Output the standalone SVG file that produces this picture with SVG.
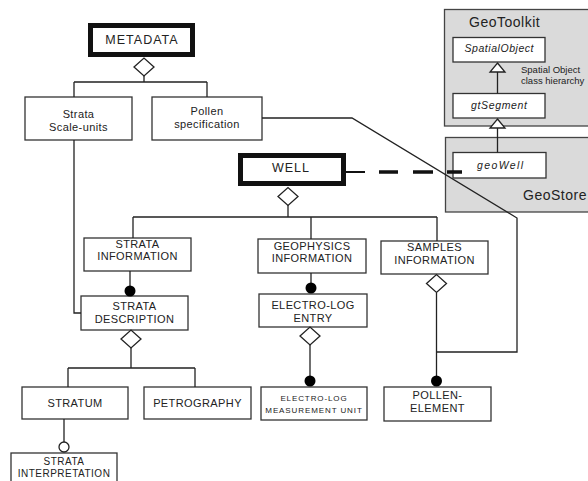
<svg xmlns="http://www.w3.org/2000/svg" xmlns:xlink="http://www.w3.org/1999/xlink" width="588" height="481" viewBox="0 0 588 481">
<style>
  text { font-family: "Liberation Sans", Arial, Helvetica, sans-serif; fill: #222; text-anchor: middle; }
  .box { fill: #fff; stroke: #333; stroke-width: 1.3; }
  .thick { fill: #fff; stroke: #111; stroke-width: 5; }
  .pkg { fill: #dadada; stroke: #444; stroke-width: 1.3; }
  .lbl { font-size: 11px; letter-spacing: 0.4px; }
  .big { font-size: 12.5px; letter-spacing: 1px; }
  .small { font-size: 8px; letter-spacing: 0.9px; }
  .mid { font-size: 10px; letter-spacing: 0.5px; }
  .it { font-size: 10.5px; font-style: italic; }
  .title { font-size: 14px; letter-spacing: 0.5px; text-anchor: start; }
  .note { font-size: 9.5px; text-anchor: start; }
  .ln { fill: none; stroke: #222; stroke-width: 1.3; }
  .dia { fill: #fff; stroke: #222; stroke-width: 1.3; }
  .dot { fill: #000; }
  .ring { fill: #fff; stroke: #222; stroke-width: 1.3; }
</style>
<defs>
  <path id="diamond" d="M-10,0 L0,-9 L10,0 L0,9 Z"/>
  <path id="tri" d="M0,0 L7.5,9 L-7.5,9 Z"/>
</defs>

<!-- packages -->
<g id="GeoToolkit">
  <rect class="pkg" x="444.5" y="9.5" width="160" height="116.5"/>
  <text class="title" x="469" y="27">GeoToolkit</text>
  <text class="note" x="521" y="73">Spatial Object</text>
  <text class="note" x="521" y="84">class hierarchy</text>
</g>
<g id="GeoStore">
  <rect class="pkg" x="445.5" y="137.5" width="160" height="74.5"/>
  <text class="title" x="523" y="200">GeoStore</text>
</g>

<!-- nodes -->
<g id="METADATA">
  <rect class="thick" x="90.5" y="25.5" width="102" height="29"/>
  <text class="big" x="142" y="44">METADATA</text>
</g>
<g id="StrataScaleUnits">
  <rect class="box" x="25" y="97" width="107" height="43"/>
  <text class="lbl" x="78.5" y="118">Strata</text>
  <text class="lbl" x="78.5" y="131">Scale-units</text>
</g>
<g id="PollenSpecification">
  <rect class="box" x="152" y="97" width="110" height="43"/>
  <text class="lbl" x="207" y="115">Pollen</text>
  <text class="lbl" x="207" y="128">specification</text>
</g>
<g id="WELL">
  <rect class="thick" x="240.5" y="155.5" width="103" height="28"/>
  <text class="big" x="291" y="172">WELL</text>
</g>
<g id="StrataInformation">
  <rect class="box" x="84" y="238" width="107" height="33"/>
  <text class="lbl" x="137.5" y="248">STRATA</text>
  <text class="lbl" x="137.5" y="260">INFORMATION</text>
</g>
<g id="GeophysicsInformation">
  <rect class="box" x="258" y="239" width="108" height="34"/>
  <text class="lbl" x="312" y="250">GEOPHYSICS</text>
  <text class="lbl" x="312" y="262">INFORMATION</text>
</g>
<g id="SamplesInformation">
  <rect class="box" x="381" y="241" width="107" height="33"/>
  <text class="lbl" x="434.5" y="251">SAMPLES</text>
  <text class="lbl" x="434.5" y="264">INFORMATION</text>
</g>
<g id="StrataDescription">
  <rect class="box" x="81" y="296" width="107" height="34"/>
  <text class="lbl" x="134.5" y="310">STRATA</text>
  <text class="lbl" x="134.5" y="323">DESCRIPTION</text>
</g>
<g id="ElectroLogEntry">
  <rect class="box" x="259" y="294" width="108" height="33"/>
  <text class="lbl" x="313" y="309">ELECTRO-LOG</text>
  <text class="lbl" x="313" y="322">ENTRY</text>
</g>
<g id="Stratum">
  <rect class="box" x="22" y="387" width="106" height="32"/>
  <text class="lbl" x="75" y="407">STRATUM</text>
</g>
<g id="Petrography">
  <rect class="box" x="144" y="387" width="107" height="32"/>
  <text class="lbl" x="197.5" y="407">PETROGRAPHY</text>
</g>
<g id="ElectroLogMeasurementUnit">
  <rect class="box" x="261" y="387" width="106" height="33"/>
  <text class="small" x="314" y="401">ELECTRO-LOG</text>
  <text class="small" x="314" y="413">MEASUREMENT UNIT</text>
</g>
<g id="PollenElement">
  <rect class="box" x="384" y="387" width="107" height="34"/>
  <text class="lbl" x="437.5" y="399">POLLEN-</text>
  <text class="lbl" x="437.5" y="412">ELEMENT</text>
</g>
<g id="StrataInterpretation">
  <rect class="box" x="11" y="453" width="106" height="40"/>
  <text class="mid" x="64" y="465">STRATA</text>
  <text class="mid" x="64" y="477">INTERPRETATION</text>
</g>
<g id="SpatialObject">
  <rect class="box" x="453" y="37.5" width="92" height="24.5"/>
  <text class="it" x="499" y="52" textLength="69" lengthAdjust="spacing">SpatialObject</text>
</g>
<g id="gtSegment">
  <rect class="box" x="453" y="93.5" width="92" height="24.5"/>
  <text class="it" x="499" y="109" textLength="56" lengthAdjust="spacing">gtSegment</text>
</g>
<g id="geoWell">
  <rect class="box" x="453" y="152.5" width="93" height="25.5"/>
  <text class="it" x="500" y="169" textLength="46" lengthAdjust="spacing">geoWell</text>
</g>

<!-- connectors -->
<g id="connectors">
  <!-- METADATA aggregation -->
  <path class="ln" d="M144,76 V82 M74,82 H207 M74,82 V97 M207,82 V97"/>
  <use href="#diamond" class="dia" x="144" y="67"/>
  <!-- Strata Scale-units to Strata Description -->
  <path class="ln" d="M74,140 V313 H81"/>
  <!-- Pollen specification to Pollen element -->
  <path class="ln" d="M262,118 H352 L517,218 V352 H436.5"/>
  <!-- WELL aggregation -->
  <path class="ln" d="M288,205 V217 M133,217 H437 M133,217 V238 M311,217 V239 M437,217 V241"/>
  <use href="#diamond" class="dia" x="288" y="196.5"/>
  <!-- WELL to geoWell dashed -->
  <path fill="none" stroke="#111" stroke-width="2" d="M346,172 H365"/>
  <path fill="none" stroke="#111" stroke-width="3.5" d="M379,172 H398 M413,172 H433 M447,172 H462"/>
  <!-- Strata information to description -->
  <path class="ln" d="M130,271 V291"/>
  <circle class="dot" cx="130" cy="291" r="5.5"/>
  <!-- Strata description aggregation -->
  <path class="ln" d="M131,347 V368 M68,368 H195 M68,368 V387 M195,368 V387"/>
  <use href="#diamond" class="dia" x="131" y="339"/>
  <!-- Stratum to interpretation -->
  <path class="ln" d="M64,419 V442"/>
  <circle class="ring" cx="64" cy="447" r="5"/>
  <!-- Geophysics to electro-log entry -->
  <path class="ln" d="M311,273 V287"/>
  <circle class="dot" cx="311" cy="288" r="5.5"/>
  <!-- Electro-log entry to measurement unit -->
  <path class="ln" d="M310,345 V380"/>
  <use href="#diamond" class="dia" x="310" y="336"/>
  <circle class="dot" cx="310" cy="381" r="5.5"/>
  <!-- Samples to pollen element -->
  <path class="ln" d="M436.5,293 V381"/>
  <use href="#diamond" class="dia" x="436.5" y="283.5"/>
  <circle class="dot" cx="436.5" cy="381" r="5.5"/>
  <!-- generalization -->
  <path class="ln" d="M497.5,72 V93.5 M497.5,128 V152.5"/>
  <use href="#tri" class="dia" x="497.5" y="63"/>
  <use href="#tri" class="dia" x="497.5" y="119"/>
</g>
</svg>
